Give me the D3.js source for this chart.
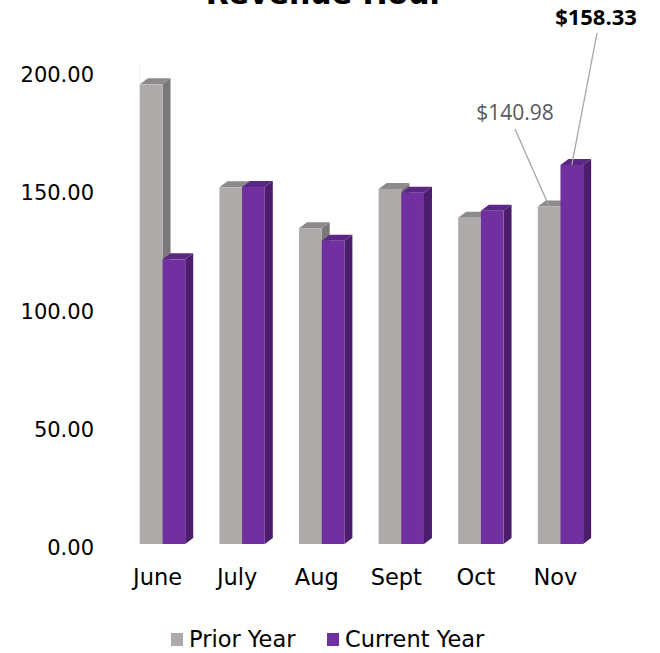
<!DOCTYPE html>
<html>
<meta charset="utf-8">
<title>Revenue Hour</title>
<style>
  body { margin: 0; background: #fff; }
  svg { display: block; }
</style>
<body>
<div id="chartContainer"></div>
<script src="https://d3js.org/d3.v7.min.js"></script>
<script>
  // data
  var months = ["June", "July", "Aug", "Sept", "Oct", "Nov"];
  var series = ["Prior Year", "Current Year"];
  var priorYear = [192.0, 149.0, 131.9, 148.3, 136.3, 140.98];
  var currentYear = [118.9, 149.1, 126.7, 146.7, 139.2, 158.33];
  var yTicks = [0, 50, 100, 150, 200];

  var W = 660, H = 653;
  var svg = d3.select("#chartContainer").append("svg")
    .attr("width", W).attr("height", H);

  var font = "'DejaVu Sans', sans-serif";
  var dx = 8, dy = 6;   // 3d depth offset

  var colors = {
    "Prior Year":   { front: "#aeaaaa", side: "#7a7878", top: "#8c8a8a" },
    "Current Year": { front: "#7030a0", side: "#4b1d6c", top: "#5a2784" }
  };

  var x = d3.scaleBand().domain(months).range([112, 611])
    .paddingInner(0.43).paddingOuter(0.35);
  var xs = d3.scaleBand().domain(series).range([0, x.bandwidth()]);
  var y = d3.scaleLinear().domain([0, 200]).range([544, 65.2]);
  // the value axis sits on the back wall, a bit off the bar fronts
  var yAxisScale = d3.scaleLinear().domain([0, 200]).range([548, 75]);

  // title (cut off at the top of the picture)
  svg.append("text")
    .attr("x", 325).attr("y", 4)
    .attr("text-anchor", "middle")
    .style("font-family", font).style("font-weight", "bold")
    .style("font-size", "30px").style("fill", "#000")
    .text("Revenue Hour");

  // faint wall edge
  svg.append("line")
    .attr("x1", 139.5).attr("x2", 139.5)
    .attr("y1", y(200)).attr("y2", y(0))
    .style("stroke", "#f0f0f0").style("stroke-width", 1);

  // y axis labels
  var yAxis = d3.axisLeft(yAxisScale).tickValues(yTicks)
    .tickFormat(d3.format(".2f")).tickSize(0).tickPadding(0);
  var ga = svg.append("g").attr("transform", "translate(94,0)").call(yAxis);
  ga.select(".domain").remove();
  ga.selectAll("text")
    .style("font-family", font).style("font-size", "21px").style("fill", "#000");

  // x axis labels
  var gx = svg.append("g").attr("transform", "translate(-5,569)")
    .call(d3.axisBottom(x).tickSize(0).tickPadding(0));
  gx.select(".domain").remove();
  gx.selectAll("text")
    .style("font-family", font).style("font-size", "22.5px").style("fill", "#000");

  var rows = [];
  months.forEach(function (m, i) {
    rows.push({ month: m, key: "Prior Year", value: priorYear[i] });
    rows.push({ month: m, key: "Current Year", value: currentYear[i] });
  });

  rows.forEach(function (d) {
    var x0 = x(d.month) + xs(d.key), w = xs.bandwidth();
    var yt = y(d.value), yb = y(0);
    var c = colors[d.key];
    var g = svg.append("g");
    // side face
    g.append("path")
      .attr("d", "M" + (x0 + w) + "," + yt + "L" + (x0 + w + dx) + "," + (yt - dy) +
        "L" + (x0 + w + dx) + "," + (yb - dy) + "L" + (x0 + w) + "," + yb + "Z")
      .style("fill", c.side);
    // top face
    g.append("path")
      .attr("d", "M" + x0 + "," + yt + "L" + (x0 + dx) + "," + (yt - dy) +
        "L" + (x0 + w + dx) + "," + (yt - dy) + "L" + (x0 + w) + "," + yt + "Z")
      .style("fill", c.top);
    // front face
    g.append("rect")
      .attr("x", x0).attr("y", yt)
      .attr("width", w).attr("height", yb - yt)
      .style("fill", c.front);
  });

  // data labels for Nov
  var last = months.length - 1;
  var labels = [
    { key: "Prior Year", value: priorYear[last], lx: 515, ly: 120, ax: 515, ay: 129,
      bold: false, size: "21px", color: "#595959" },
    { key: "Current Year", value: currentYear[last], lx: 596, ly: 25, ax: 597, ay: 33,
      bold: true, size: "22px", color: "#000" }
  ];
  labels.forEach(function (l) {
    var bx = x(months[last]) + xs(l.key) + xs.bandwidth() / 2;
    svg.append("line")
      .attr("x1", l.ax).attr("y1", l.ay)
      .attr("x2", bx).attr("y2", y(l.value))
      .style("stroke", "#a6a6a6").style("stroke-width", 1.3);
    svg.append("text")
      .attr("x", l.lx).attr("y", l.ly)
      .attr("text-anchor", "middle")
      .style("font-family", "'Open Sans', sans-serif")
      .style("font-weight", l.bold ? "bold" : "normal")
      .style("font-size", l.size).style("fill", l.color)
      .text("$" + d3.format(".2f")(l.value));
  });

  // legend
  var legendX = [171, 327];
  series.forEach(function (s, i) {
    svg.append("rect")
      .attr("x", legendX[i]).attr("y", 633)
      .attr("width", 12).attr("height", 13)
      .style("fill", colors[s].front);
    svg.append("text")
      .attr("x", legendX[i] + 18).attr("y", 647)
      .style("font-family", font).style("font-size", "22.5px").style("fill", "#000")
      .text(s);
  });
</script>
</body>
</html>
